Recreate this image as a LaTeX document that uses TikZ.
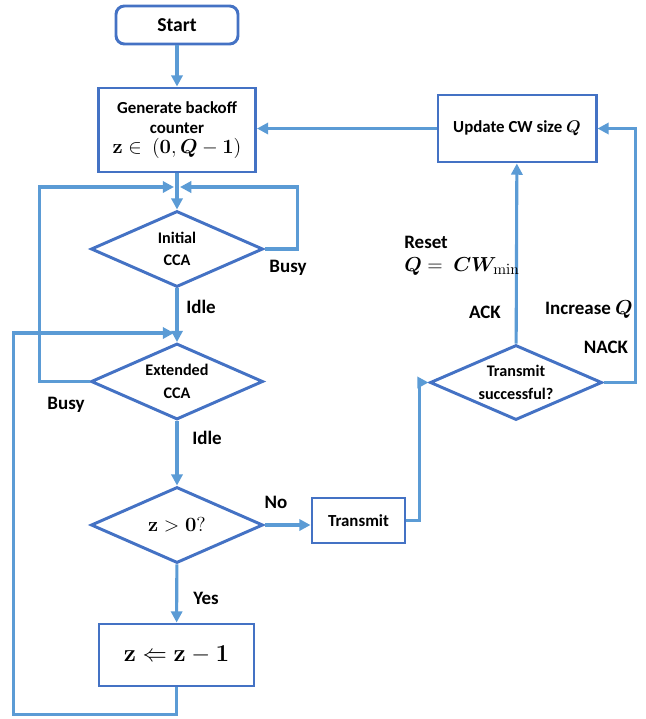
\documentclass[tikz,border=0pt]{standalone}
\usepackage[no-math]{fontspec}
\setmainfont{Carlito}
\usepackage{amsmath}
\usepackage{bm}
\usetikzlibrary{shapes.geometric,arrows.meta}
\definecolor{boxblue}{HTML}{4472C4}
\definecolor{lineblue}{HTML}{5B9BD5}
\newcommand{\bigmath}{\fontsize{14.5}{16}\selectfont}
\tikzset{
 box/.style={draw=boxblue, line width=2.1pt, inner sep=2pt, align=center,
  font=\bfseries\fontsize{12}{14}\selectfont},
 cond/.style={diamond, aspect=2.25, draw=boxblue, line width=2.1pt, inner sep=0pt,
  minimum width=4.3cm, minimum height=1.9cm, align=center,
  font=\bfseries\fontsize{11.5}{16}\selectfont},
 flow/.style={draw=lineblue, line width=2.2pt, -{Triangle[length=8pt,width=8pt]}},
 lbl/.style={inner sep=0pt, font=\bfseries\fontsize{13.5}{16}\selectfont}
}
\begin{document}
\begin{tikzpicture}[x=0.025cm, y=-0.025cm]
 \useasboundingbox (0,0) rectangle (646,719);

 % Kaesten und Rauten
 \node[box, rounded corners=6pt, minimum width=3.05cm, minimum height=0.95cm,
  font=\bfseries\fontsize{14}{16}\selectfont] (start) at (177, 25) {Start};
 \node[box, minimum width=3.925cm, minimum height=2.1cm] (gen) at (177, 130)
  {Generate backoff\\counter\\{\bigmath$\mathbf{z} \in\ (\mathbf{0}, \bm{Q} - \mathbf{1})$}};
 \node[box, minimum width=3.95cm, minimum height=1.675cm] (upd) at (517, 128.5)
  {Update CW size {\fontsize{13}{14}\selectfont$\bm{Q}$}};
 \node[cond] (ica) at (177, 249) {Initial\\CCA};
 \node[cond] (eca) at (177, 381.5) {Extended\\CCA};
 \node[cond, font=\bigmath] (zc) at (177, 525) {$\mathbf{z} > \mathbf{0}?$};
 \node[box, minimum width=2.325cm, minimum height=1.125cm] (tx) at (358.5, 520.5) {Transmit};
 \node[cond, minimum width=4.3cm, minimum height=1.875cm] (ts) at (516, 382.5)
  {Transmit\\successful?};
 \node[box, minimum width=3.875cm, minimum height=1.55cm,
  font=\fontsize{16}{18}\selectfont] (zdec) at (176.5, 655)
  {$\mathbf{z} \Leftarrow \mathbf{z} - \mathbf{1}$};

 % Knotenpunkte auf den senkrechten Linien
 \coordinate (jR) at (180, 187);
 \coordinate (jL) at (174, 187);
 \coordinate (kL) at (174, 333);

 % Verbindungspfeile
 \draw[flow] (start) -- (gen);
 \draw[flow] (upd.west) -- (upd.west -| gen.east);
 \draw[flow] (gen) -- (ica);
 \draw[flow] (ica.east) -- ++(33,0) |- (jR);
 \draw[flow] (eca.west) -- ++(-50,0) |- (jL);
 \draw[flow] (ica) -- (eca);
 \draw[flow] (zdec.south) -- ++(0,27) -| ++(-163,-150) |- (kL);
 \draw[flow] (eca) -- (zc);
 \draw[flow] (zc.east) -- (zc.east -| tx.west);
 \draw[flow] (zc) -- (zdec);
 \draw[flow] (tx.east) -- ++(13,0) |- (ts.west);
 \draw[flow] (ts) -- (upd);
 \draw[flow] (ts.east) -- ++(32,0) |- (upd.east);

 % Beschriftungen
 \node[lbl] (busyA) at (288, 268) {Busy};
 \node[lbl] (busyB) at (66, 405) {Busy};
 \node[lbl] (idleA) at (201, 307) {Idle};
 \node[lbl] (idleB) at (207, 438) {Idle};
 \node[lbl] (no) at (276, 502) {No};
 \node[lbl] (yes) at (206, 598) {Yes};
 \node[lbl] (ack) at (485, 312) {ACK};
 \node[lbl] (nack) at (606, 347) {NACK};
 \node[lbl] (incr) at (589, 310) {Increase {\bigmath$\bm{Q}$}};
 \node[lbl, align=left, anchor=north west] (reset) at (404, 236)
  {Reset\\{\fontsize{15}{17}\selectfont$\bm{Q} =\ \bm{CW}_{\mathrm{min}}$}};
\end{tikzpicture}
\end{document}
